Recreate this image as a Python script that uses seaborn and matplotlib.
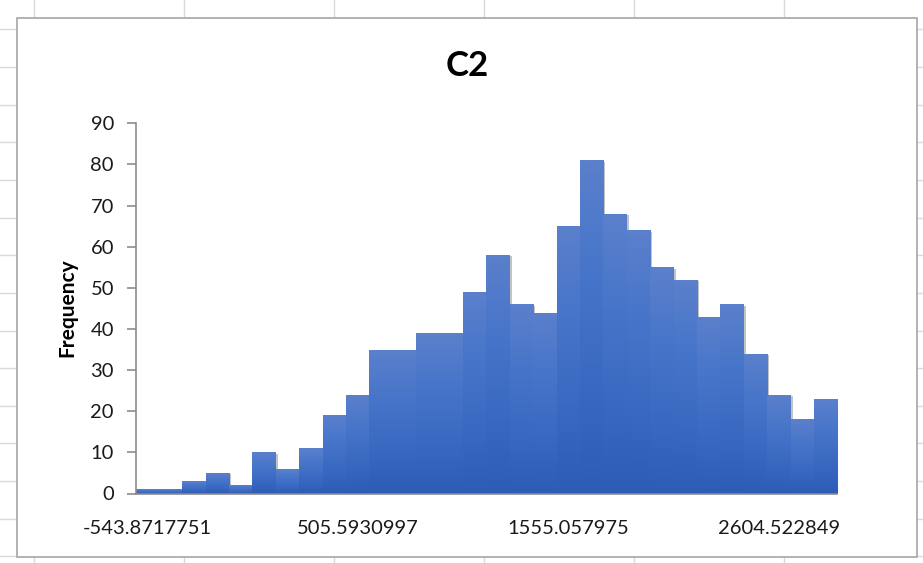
import numpy as np
import matplotlib
matplotlib.use("Agg")
import matplotlib.pyplot as plt
import matplotlib.patheffects as pe
from matplotlib.colors import LinearSegmentedColormap
from matplotlib.patches import Rectangle
from matplotlib.lines import Line2D
import seaborn as sns

# ---------------- data ----------------
title = "C2"
y_label = "Frequency"
first_bin = -543.8717751
bin_width = 116.60720831
counts = [1, 1, 3, 5, 2, 10, 6, 11, 19, 24,
          35, 35, 39, 39, 49, 58, 46, 44, 65, 81,
          68, 64, 55, 52, 43, 46, 34, 24, 18, 23]
categories = [f"{first_bin + i * bin_width:.10g}" for i in range(len(counts))]
shown_tick_idx = [0, 9, 18, 27]
x_tick_labels = ["-543.8717751", "505.5930997", "1555.057975", "2604.522849"]
y_ticks = [0, 10, 20, 30, 40, 50, 60, 70, 80, 90]

# ---------------- style ----------------
sns.set_theme(style="white")
plt.rcParams["font.family"] = ["Lato", "DejaVu Sans"]

W, H = 923, 563
fig = plt.figure(figsize=(W / 100, H / 100), dpi=100)
fig.patch.set_facecolor("white")

def fx(px):
    return px / W

def fy(py):
    return 1 - py / H

# spreadsheet grid behind the chart
grid_col = "#d9d9d9"
for gx in [34.3 + 150 * k for k in range(7)]:
    fig.add_artist(Line2D([fx(gx), fx(gx)], [0, 1], color=grid_col, lw=1, zorder=0))
for gy in [29.3 + 37.65 * k for k in range(15)]:
    fig.add_artist(Line2D([0, 1], [fy(gy), fy(gy)], color=grid_col, lw=1, zorder=0))

# chart area box
fig.add_artist(Rectangle((fx(17.3), fy(556.7)), fx(917.3) - fx(17.3), fy(18.3) - fy(556.7),
                         facecolor="white", edgecolor="#a6a6a6", lw=1.2, zorder=1))

ax = fig.add_axes([fx(135.5), fy(493.5), fx(837.3) - fx(135.5), fy(123.3) - fy(493.5)])
ax.set_zorder(2)
ax.patch.set_alpha(0)

sns.barplot(x=categories, y=counts, order=categories, width=1.0, color="#4472C4",
            saturation=1, linewidth=0, ax=ax)

cmap = LinearSegmentedColormap.from_list(
    "excel", ["#2c5cb6", "#3a69c2", "#4775c9", "#5b80cc"])
grad = np.linspace(0, 1, 256).reshape(-1, 1)
for p in ax.patches:
    p.set_path_effects([pe.SimplePatchShadow(offset=(1.5, -1.0), shadow_rgbFace="#555555", alpha=0.35),
                        pe.Normal()])
    x0, y0 = p.get_x(), p.get_y()
    w, h = p.get_width(), p.get_height()
    if h <= 0:
        continue
    im = ax.imshow(grad, extent=[x0, x0 + w, y0, y0 + h], origin="lower", aspect="auto",
                   cmap=cmap, zorder=p.get_zorder() + 0.1, interpolation="bilinear")
    im.set_clip_path(p)

ax.set_xlim(-0.5, len(counts) - 0.5)
ax.set_ylim(0, 90)
ax.set_yticks(y_ticks)
ax.set_xticks(shown_tick_idx)
ax.set_xticklabels(x_tick_labels)

for s in ["top", "right"]:
    ax.spines[s].set_visible(False)
for s in ["left", "bottom"]:
    ax.spines[s].set_color("#8c8c8c")
    ax.spines[s].set_linewidth(1.2)

ax.tick_params(axis="y", direction="out", length=6.5, width=1.2, color="#8c8c8c",
               labelsize=14.5, labelcolor="#1a1a1a", pad=9, left=True)
ax.tick_params(axis="x", length=0, labelsize=14.5, labelcolor="#1a1a1a", pad=19)
ax.set_xlabel("")
ax.set_ylabel("")

fig.text(fx(467.5), fy(66), title, ha="center", va="center", fontsize=25,
         fontweight="bold", color="black")
fig.text(fx(67), fy(308), y_label, ha="center", va="center", rotation=90,
         fontsize=15, fontweight="bold", color="black")

fig.savefig("out.png", dpi=100)
